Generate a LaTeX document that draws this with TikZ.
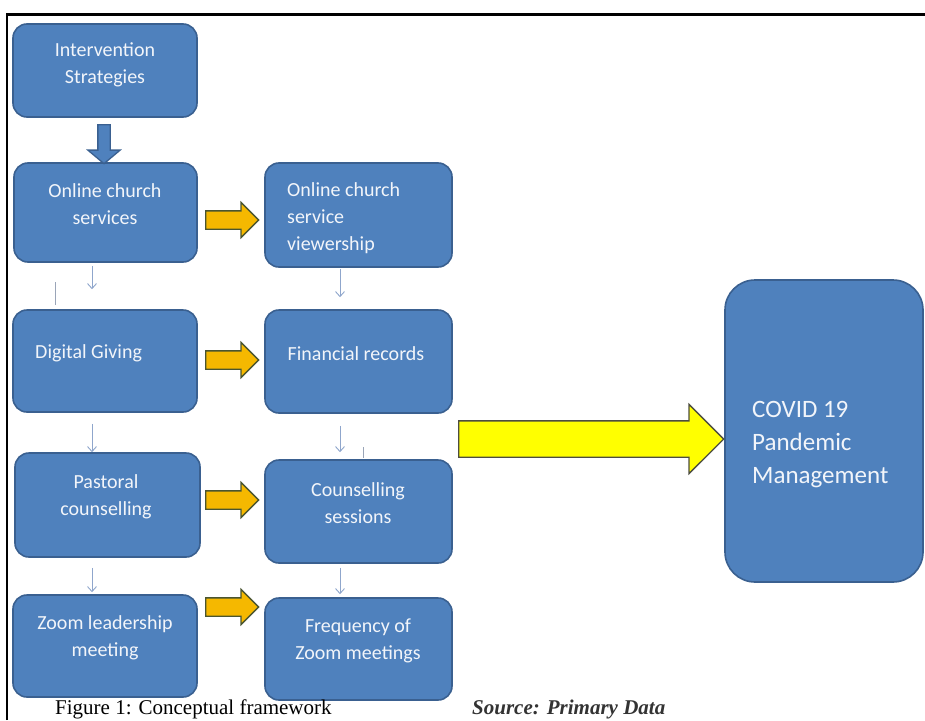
\documentclass[tikz,border=0pt]{standalone}
\usepackage{fontspec}
\setmainfont{Carlito}
\newfontfamily\capfont{Liberation Serif}
\usetikzlibrary{shapes.arrows,arrows.meta,calc}
\definecolor{boxblue}{HTML}{4F81BD}
\definecolor{boxline}{HTML}{3A6090}
\definecolor{boxtext}{HTML}{F2F5FA}
\definecolor{gold}{HTML}{F5B800}
\definecolor{goldline}{HTML}{4A5530}
\definecolor{yel}{HTML}{FFFF00}
\definecolor{yelline}{HTML}{4D4D40}
\definecolor{thinarrow}{HTML}{8FA6CC}
\definecolor{stray}{HTML}{9AA5B8}
\begin{document}
\begin{tikzpicture}[x=1pt,y=-1pt,
  box/.style={draw=boxline, fill=boxblue, line width=1.6pt, rounded corners=14pt, inner sep=0pt},
  boxtxt/.style={text=boxtext, font=\fontsize{20}{27}\selectfont, inner sep=0pt, align=center},
  bigtxt/.style={text=boxtext, font=\fontsize{25}{33}\selectfont, inner sep=0pt, align=left},
  goldarrow/.style={single arrow, draw=goldline, fill=gold, line width=1.3pt,
    inner xsep=0pt, inner ysep=8.5pt,
    single arrow head extend=8.5pt, single arrow head indent=0pt,
    minimum height=53pt, anchor=tail},
  yelarrow/.style={single arrow, draw=yelline, fill=yel, line width=1.3pt,
    inner xsep=0pt, inner ysep=17.5pt,
    single arrow head extend=16.5pt, single arrow head indent=0pt,
    minimum height=265pt, anchor=tail},
  bluearrow/.style={single arrow, draw=boxline, fill=boxblue, line width=1.3pt,
    inner xsep=0pt, inner ysep=5.5pt,
    single arrow head extend=10pt, single arrow head indent=0pt, single arrow tip angle=100,
    minimum height=39pt, rotate=-90, anchor=tail},
  smallarr/.style={draw=thinarrow, line width=0.9pt, -{Straight Barb[length=5pt,width=9pt]}},
  capt/.style={inner sep=0pt, anchor=base west}
]
\useasboundingbox (0,0) rectangle (925,720);
\fill[white] (0,0) rectangle (925,720);
\draw[line width=2.5pt, black] (7,720) -- (7,14.5) -- (925,14.5);

% boxes
\node[box, minimum width=184pt, minimum height=93pt]  (A) at (105,70.5) {};
\node[box, minimum width=183pt, minimum height=99pt]  (B) at (105.5,212.5) {};
\node[box, minimum width=187pt, minimum height=104pt] (C) at (358.5,215) {};
\node[box, minimum width=184pt, minimum height=102pt] (D) at (105,361) {};
\node[box, minimum width=187pt, minimum height=103pt] (E) at (358.5,361.5) {};
\node[box, minimum width=185pt, minimum height=104pt] (F) at (107.5,505) {};
\node[box, minimum width=187pt, minimum height=103pt] (G) at (358.5,511.5) {};
\node[box, minimum width=184pt, minimum height=102pt] (H) at (105,646) {};
\node[box, minimum width=187pt, minimum height=102pt] (I) at (358.5,649) {};
\node[box, rounded corners=30pt, minimum width=198pt, minimum height=302pt] (J) at (824,431) {};

% texts
\node[boxtxt] (tA) at (105,65) {Intervention\\Strategies};
\node[boxtxt] (tB) at (105,204) {Online church\\services};
\node[boxtxt, align=left, anchor=west] (tC) at (287,218) {Online church\\service\\viewership};
\node[boxtxt, anchor=west] (tD) at (35,353) {Digital Giving};
\node[boxtxt] (tE) at (356,354) {Financial records};
\node[boxtxt] (tF) at (106,497) {Pastoral\\counselling};
\node[boxtxt] (tG) at (358,503) {Counselling\\sessions};
\node[boxtxt] (tH) at (105,638) {Zoom leadership\\meeting};
\node[boxtxt] (tI) at (358,641) {Frequency of\\Zoom meetings};
\node[bigtxt, anchor=west] (tJ) at (752,445) {COVID 19\\Pandemic\\Management};

% block arrows
\node[bluearrow] (ba) at (104,124) {};
\node[goldarrow] (o1) at (205,220) {};
\node[goldarrow] (o2) at (205,360) {};
\node[goldarrow] (o3) at (205,500) {};
\node[goldarrow] (o4) at (205,607) {};
\node[yelarrow] (ya) at (458,439) {};

% small arrows
\draw[smallarr, shorten <=3pt, shorten >=20pt] ([xshift=-13.5pt]B.south) -- ([xshift=-13pt]D.north);
\draw[smallarr, shorten <=1pt, shorten >=12pt] ([xshift=-18.5pt]C.south) -- ([xshift=-18.5pt]E.north);
\draw[smallarr, shorten <=11pt] ([xshift=-13pt]D.south) -- ([xshift=-15.5pt]F.north);
\draw[smallarr, shorten <=12pt, shorten >=7pt] ([xshift=-18.5pt]E.south) -- ([xshift=-18.5pt]G.north);
\draw[smallarr, shorten <=10pt, shorten >=2pt] ([xshift=-15.5pt]F.south) -- ([xshift=-13pt]H.north);
\draw[smallarr, shorten <=4pt, shorten >=3pt] ([xshift=-18.5pt]G.south) -- ([xshift=-18.5pt]I.north);

% stray marks
\draw[draw=stray, line width=0.9pt] (55,282) -- (55,305);
\draw[draw=stray, line width=0.9pt] (363,447) -- (363,458);

% caption
\node[capt, font=\capfont\fontsize{21}{25}\selectfont] (cap) at (55,714) {Figure 1: Conceptual framework};
\node[capt, font=\capfont\bfseries\itshape\fontsize{21}{25}\selectfont, text=black!80] (src) at (472,714) {Source: Primary Data};
\end{tikzpicture}
\end{document}
